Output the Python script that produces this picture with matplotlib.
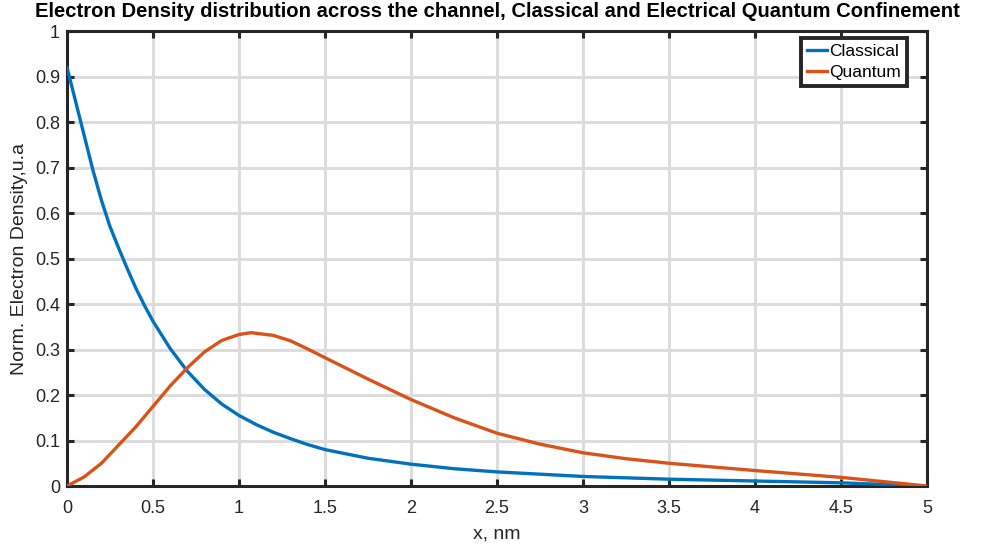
import matplotlib
matplotlib.use("Agg")
import matplotlib.pyplot as plt
import numpy as np

# values
classical_x = [0.0, 0.05, 0.1, 0.15, 0.2, 0.25, 0.3, 0.35, 0.4, 0.45, 0.5, 0.6, 0.7,
               0.8, 0.9, 1.0, 1.1, 1.2, 1.3, 1.4, 1.5, 1.75, 2.0, 2.25, 2.5, 3.0,
               3.5, 4.0, 4.5, 5.0]
classical_y = [0.92, 0.845, 0.77, 0.695, 0.628, 0.57, 0.523, 0.478, 0.435, 0.397, 0.362,
               0.302, 0.252, 0.212, 0.18, 0.155, 0.135, 0.118, 0.104, 0.091, 0.08,
               0.061, 0.048, 0.038, 0.031, 0.021, 0.015, 0.011, 0.007, 0.0]

quantum_x = [0.0, 0.1, 0.2, 0.25, 0.3, 0.4, 0.5, 0.6, 0.7, 0.8, 0.9, 1.0, 1.07, 1.2,
             1.3, 1.4, 1.5, 1.75, 2.0, 2.25, 2.5, 2.75, 3.0, 3.25, 3.5, 4.0, 4.5, 5.0]
quantum_y = [0.0, 0.02, 0.05, 0.07, 0.09, 0.13, 0.175, 0.22, 0.26, 0.295, 0.32, 0.333,
             0.337, 0.331, 0.319, 0.301, 0.282, 0.235, 0.19, 0.15, 0.116, 0.092, 0.073,
             0.06, 0.05, 0.034, 0.019, 0.0]

x_ticks = [0, 0.5, 1, 1.5, 2, 2.5, 3, 3.5, 4, 4.5, 5]
x_tick_labels = ["0", "0.5", "1", "1.5", "2", "2.5", "3", "3.5", "4", "4.5", "5"]
y_ticks = [0, 0.1, 0.2, 0.3, 0.4, 0.5, 0.6, 0.7, 0.8, 0.9, 1]
y_tick_labels = ["0", "0.1", "0.2", "0.3", "0.4", "0.5", "0.6", "0.7", "0.8", "0.9", "1"]

COLORS = {
    "classical": "#0072BD",
    "quantum": "#D95319",
    "axis": "#262626",
    "grid": "#dcdcdc",
}

plt.rcParams["font.family"] = ["Liberation Sans", "DejaVu Sans"]

fig = plt.figure(figsize=(9.9, 5.44), dpi=100)
ax = fig.add_axes([0.0677, 0.1066, 0.8687, 0.8364])

ax.plot(classical_x, classical_y, color=COLORS["classical"], linewidth=2.4,
        label="Classical", zorder=3)
ax.plot(quantum_x, quantum_y, color=COLORS["quantum"], linewidth=2.4,
        label="Quantum", zorder=3)

ax.set_xlim(0, 5)
ax.set_ylim(0, 1)
ax.set_xticks(x_ticks)
ax.set_xticklabels(x_tick_labels)
ax.set_yticks(y_ticks)
ax.set_yticklabels(y_tick_labels)

ax.grid(True, color=COLORS["grid"], linewidth=2.2, zorder=0)
ax.set_axisbelow(True)

for spine in ax.spines.values():
    spine.set_color(COLORS["axis"])
    spine.set_linewidth(2.2)

ax.tick_params(direction="in", length=5, width=2.2, color=COLORS["axis"],
               labelcolor=COLORS["axis"], labelsize=13, top=True, right=True)
ax.tick_params(axis="x", pad=10)
ax.tick_params(axis="y", pad=5)

ax.set_xlabel("x, nm", fontsize=14, color=COLORS["axis"], labelpad=6)
ax.set_ylabel("Norm. Electron Density,u.a", fontsize=14, color=COLORS["axis"], labelpad=5)
ax.set_title("Electron Density distribution across the channel, Classical and Electrical Quantum Confinement",
             fontsize=14.6, fontweight="bold", color="black", pad=10)

# legend top-right corner at about (907, 38) px
leg = ax.legend(loc="upper right", bbox_to_anchor=(907 / 990, 1 - 38 / 544),
                bbox_transform=fig.transFigure, borderaxespad=0.0,
                fontsize=12.5, handlelength=1.1, handletextpad=0.15,
                borderpad=0.35, labelspacing=0.3, fancybox=False, framealpha=1)
leg.get_frame().set_edgecolor(COLORS["axis"])
leg.get_frame().set_linewidth(2.8)

fig.savefig("out.png", dpi=100)
